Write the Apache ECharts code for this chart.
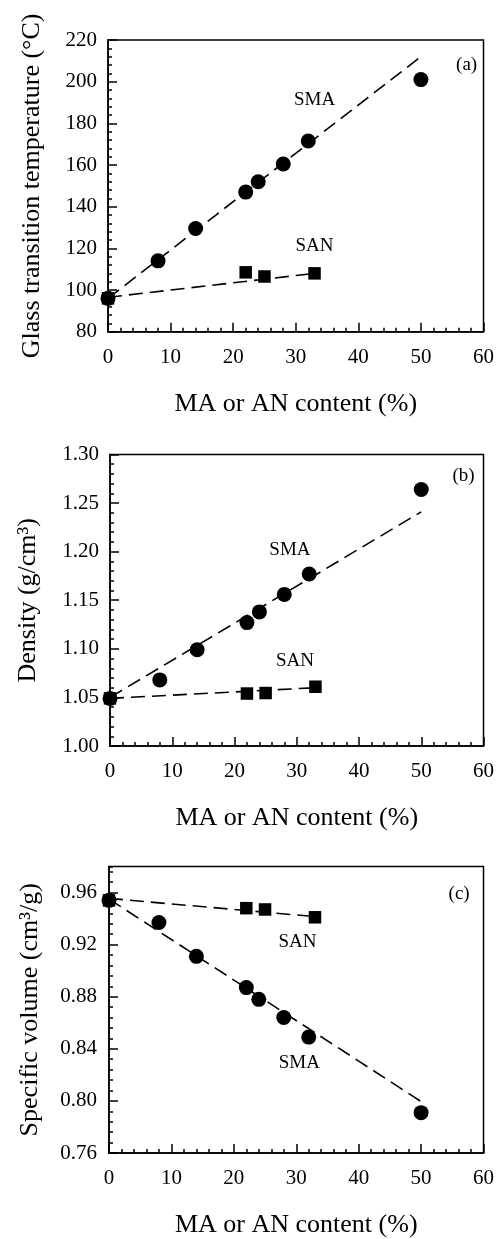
<!DOCTYPE html>
<html><head><meta charset="utf-8">
<script src="https://cdn.jsdelivr.net/npm/echarts@6/dist/echarts.min.js"></script>
<style>html,body{margin:0;padding:0;background:#fff}#c{width:497px;height:1239px}</style>
</head><body><div id="c"></div>
<script>
// ---- data ----
const contentSMA = [0, 8, 14, 22, 24, 28, 32, 50];
const contentSAN = [0, 22, 25, 33];
const tgSMA = [96, 114, 129.5, 147, 152, 160.5, 171.5, 201];
const tgSAN = [96, 108.5, 106.5, 108];
const densSMA = [1.049, 1.068, 1.099, 1.127, 1.138, 1.156, 1.177, 1.264];
const densSAN = [1.049, 1.054, 1.0545, 1.061];
const svSMA = [0.954, 0.937, 0.911, 0.887, 0.878, 0.864, 0.849, 0.791];
const svSAN = [0.954, 0.948, 0.947, 0.941];
// fitted (dashed) lines: end points
const fitSMAx = [0, 50];
const fitSANx = [0, 33];
const tgFitSMA = [96, 212];
const tgFitSAN = [96.5, 108];
const densFitSMA = [1.05, 1.241];
const densFitSAN = [1.049, 1.060];
const svFitSMA = [0.955, 0.7995];
const svFitSAN = [0.9555, 0.9415];
// axis tick labels
const xTicks = [0, 10, 20, 30, 40, 50, 60];
const tgTicks = [80, 100, 120, 140, 160, 180, 200, 220];
const densTicks = ['1.00', '1.05', '1.10', '1.15', '1.20', '1.25', '1.30'];
const svTicks = ['0.76', '0.80', '0.84', '0.88', '0.92', '0.96'];
const xTitle = 'MA or AN content (%)';
const yTitles = ['Glass transition temperature (°C)', 'Density (g/cm³)', 'Specific volume (cm³/g)'];
const panelTags = ['(a)', '(b)', '(c)'];

const zip = (xs, ys) => xs.map((x, i) => [x, ys[i]]);
const FONT = "'Liberation Serif', 'DejaVu Serif', serif";
const INK = '#000';

function xAxisFor(g) {
  return {
    type: 'value', gridIndex: g, min: xTicks[0], max: xTicks[xTicks.length - 1],
    interval: xTicks[1] - xTicks[0],
    name: xTitle, nameLocation: 'middle', nameGap: 59,
    nameTextStyle: { fontFamily: FONT, fontSize: 26, color: INK },
    axisLine: { show: true, lineStyle: { color: INK, width: 1.5 } },
    axisTick: { show: true, inside: true, length: 9, lineStyle: { color: INK, width: 1.5 } },
    minorTick: { show: true, splitNumber: 5, length: 4, lineStyle: { color: INK, width: 1.5 } },
    axisLabel: { fontFamily: FONT, fontSize: 21, color: INK, margin: 15 },
    splitLine: { show: false }
  };
}
function yAxisFor(g, ticks, name, gap, fmt, extra) {
  const lo = Number(ticks[0]), step = Number(ticks[1]) - Number(ticks[0]);
  return Object.assign({
    type: 'value', gridIndex: g, min: lo, max: Number(ticks[ticks.length - 1]), interval: step,
    name: name, nameLocation: 'middle', nameGap: gap, nameRotate: 90,
    nameTextStyle: { fontFamily: FONT, fontSize: 26, color: INK },
    axisLine: { show: true, lineStyle: { color: INK, width: 1.5 } },
    axisTick: { show: true, inside: true, length: 9, lineStyle: { color: INK, width: 1.5 } },
    minorTick: { show: true, splitNumber: 5, length: 4, lineStyle: { color: INK, width: 1.5 } },
    axisLabel: { fontFamily: FONT, fontSize: 21, color: INK, margin: 11, formatter: fmt },
    splitLine: { show: false }
  }, extra || {});
}

function panelSeries(g, yIdx, smaY, sanY, fitSMA, fitSAN, labels) {
  const dash = { color: INK, width: 1.6, type: [14, 7], opacity: 1 };
  const s = [
    { type: 'line', xAxisIndex: g, yAxisIndex: yIdx, data: zip(fitSMAx, fitSMA), symbol: 'none', lineStyle: dash, z: 2, silent: true },
    { type: 'line', xAxisIndex: g, yAxisIndex: yIdx, data: zip(fitSANx, fitSAN), symbol: 'none', lineStyle: dash, z: 2, silent: true },
    { type: 'scatter', xAxisIndex: g, yAxisIndex: yIdx, data: zip(contentSAN, sanY), symbol: 'rect', symbolSize: 12.5, itemStyle: { color: INK, opacity: 1 }, z: 3 },
    { type: 'scatter', xAxisIndex: g, yAxisIndex: yIdx, data: zip(contentSMA, smaY), symbol: 'circle', symbolSize: 15, itemStyle: { color: INK, opacity: 1 }, z: 4 },
    { type: 'scatter', xAxisIndex: g, yAxisIndex: yIdx, symbolSize: 0, z: 5, silent: true, itemStyle: { opacity: 1 },
      data: labels.map(l => ({ value: [l[1], l[2]], label: { show: true, position: 'inside', formatter: l[0], fontFamily: FONT, fontSize: 19, color: INK, opacity: 1 } })) }
  ];
  return s;
}

const option = {
  animation: false,
  backgroundColor: '#fff',
  textStyle: { fontFamily: FONT },
  grid: [
    { left: 108, right: 13, top: 40, height: 291.7, show: true, borderColor: INK, borderWidth: 1.5, backgroundColor: 'transparent' },
    { left: 110, right: 10.5, top: 454.5, height: 291.5, show: true, borderColor: INK, borderWidth: 1.5, backgroundColor: 'transparent' },
    { left: 109, right: 12, top: 866.5, height: 291.8, show: true, borderColor: INK, borderWidth: 1.5, backgroundColor: 'transparent' }
  ],
  xAxis: [xAxisFor(0), xAxisFor(1), xAxisFor(2)],
  yAxis: [
    yAxisFor(0, tgTicks, yTitles[0], 63, v => String(v)),
    yAxisFor(1, densTicks, yTitles[1], 69, v => v.toFixed(2)),
    yAxisFor(2, svTicks, yTitles[2], 66, v => v.toFixed(2), { max: 0.98, minorTick: { show: false }, axisLabel: { fontFamily: FONT, fontSize: 21, color: INK, margin: 12, showMaxLabel: false, formatter: v => v.toFixed(2) } }),
    { type: 'value', gridIndex: 2, min: 0.76, max: 0.98, interval: 0.008, position: 'left',
      axisLine: { show: false }, axisLabel: { show: false }, splitLine: { show: false },
      axisTick: { show: true, inside: true, length: 4, lineStyle: { color: INK, width: 1.5 } } }
  ],
  series: [].concat(
    panelSeries(0, 0, tgSMA, tgSAN, tgFitSMA, tgFitSAN, [['SMA', 33, 191], ['SAN', 33, 121], [panelTags[0], 57.3, 208]]),
    panelSeries(1, 1, densSMA, densSAN, densFitSMA, densFitSAN, [['SMA', 28.9, 1.202], ['SAN', 29.7, 1.087], [panelTags[1], 56.8, 1.278]]),
    panelSeries(2, 2, svSMA, svSAN, svFitSMA, svFitSAN, [['SAN', 30.2, 0.922], ['SMA', 30.5, 0.829], [panelTags[2], 56.1, 0.959]])
  )
};
const chart = echarts.init(document.getElementById('c'), null, { renderer: 'canvas' });
chart.setOption(option);
</script></body></html>
